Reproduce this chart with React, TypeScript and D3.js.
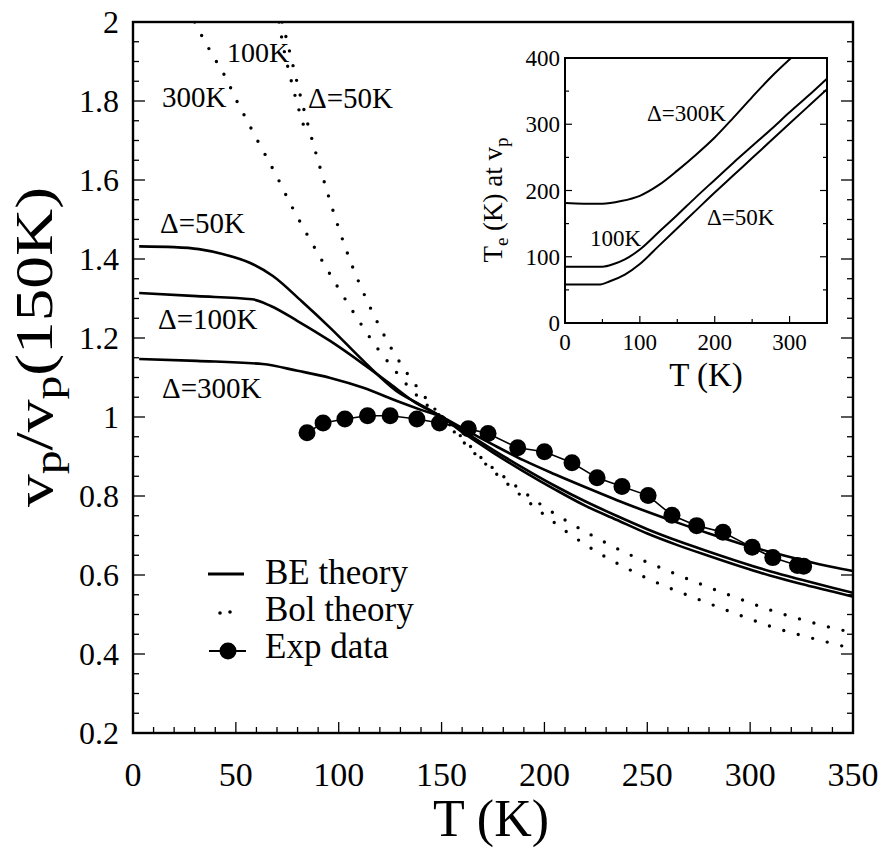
import React from 'react';
import * as d3 from 'd3';

// main plot: T (K) against vp / vp(150K)
const be50 = [[3, 1.432], [20, 1.43], [32, 1.425], [44, 1.412], [57, 1.39], [68, 1.357], [82, 1.293], [96, 1.225], [112, 1.142], [128, 1.066], [140, 1.03], [150, 1.0], [160, 0.962], [175, 0.91], [190, 0.862], [205, 0.817], [220, 0.775], [235, 0.74], [250, 0.705], [265, 0.675], [280, 0.648], [295, 0.622], [310, 0.598], [325, 0.577], [340, 0.558], [350, 0.545]];
const be100 = [[3, 1.314], [31, 1.306], [58, 1.298], [67, 1.281], [80, 1.243], [96, 1.192], [112, 1.134], [125, 1.084], [136, 1.041], [150, 1.0], [160, 0.966], [175, 0.917], [190, 0.87], [205, 0.826], [220, 0.786], [235, 0.75], [250, 0.716], [265, 0.686], [280, 0.659], [295, 0.633], [310, 0.609], [325, 0.588], [340, 0.568], [350, 0.555]];
const be300 = [[3, 1.147], [31, 1.142], [63, 1.134], [80, 1.117], [96, 1.099], [112, 1.074], [128, 1.041], [140, 1.018], [150, 1.0], [160, 0.972], [175, 0.93], [190, 0.89], [205, 0.855], [220, 0.822], [235, 0.79], [250, 0.76], [265, 0.732], [280, 0.705], [295, 0.68], [310, 0.658], [325, 0.638], [340, 0.62], [350, 0.61]];

const bol50 = [[72.5, 2.0], [74, 1.97], [78, 1.885], [82, 1.8], [86, 1.722], [90, 1.648], [95, 1.56], [100, 1.478], [106, 1.39], [112, 1.315], [119, 1.238], [126, 1.17], [134, 1.105], [142, 1.05], [150, 1.0], [160, 0.94], [170, 0.888], [180, 0.84], [190, 0.795], [200, 0.752], [212, 0.705], [225, 0.66], [240, 0.617], [258, 0.573], [276, 0.536], [294, 0.5], [311, 0.468], [328, 0.443], [345, 0.42], [350, 0.413]];
// 100K Bol curve only separates from the 50K one near the top
const bol100 = [[71, 2.0], [73, 1.94], [76.5, 1.86], [80, 1.79], [84, 1.72]];
const bol300 = [[30, 2.0], [35, 1.95], [40, 1.905], [45, 1.86], [50, 1.805], [55, 1.755], [60, 1.705], [65, 1.657], [70, 1.608], [76, 1.545], [84, 1.468], [92, 1.395], [100, 1.325], [109, 1.25], [118, 1.18], [127, 1.12], [136, 1.065], [143, 1.03], [150, 1.0], [160, 0.948], [170, 0.893], [180, 0.85], [190, 0.81], [200, 0.772], [212, 0.733], [225, 0.695], [240, 0.655], [258, 0.615], [275, 0.579], [292, 0.545], [310, 0.511], [328, 0.483], [345, 0.46], [350, 0.455]];

const expT = [84.6, 92.4, 103, 114, 125, 138, 149, 163, 172.6, 187, 200, 213.4, 225.6, 237.7, 250.4, 262, 274, 286.8, 301, 311, 323, 326];
const expV = [0.96, 0.985, 0.995, 1.003, 1.003, 0.995, 0.985, 0.97, 0.958, 0.922, 0.912, 0.884, 0.846, 0.824, 0.801, 0.751, 0.725, 0.708, 0.67, 0.644, 0.624, 0.622];

const xTicks = [0, 50, 100, 150, 200, 250, 300, 350];
const yTicks = [0.2, 0.4, 0.6, 0.8, 1, 1.2, 1.4, 1.6, 1.8, 2];

// inset: T (K) against Te (K) at vp
const in50 = [[0, 58], [45, 58], [60, 63], [80, 73], [100, 89], [125, 116], [150, 143], [175, 170], [200, 197], [225, 223], [250, 249], [275, 275], [300, 301], [325, 327], [350, 353]];
const in100 = [[0, 85], [50, 85], [65, 89], [80, 96], [100, 111], [125, 137], [150, 163], [175, 190], [200, 216], [225, 242], [250, 267], [275, 292], [300, 318], [325, 343], [350, 369]];
const in300 = [[0, 181], [25, 180], [50, 180], [75, 184], [100, 192], [125, 208], [150, 230], [175, 254], [200, 280], [225, 310], [250, 341], [275, 371], [302, 400]];
const inXTicks = [0, 100, 200, 300];
const inYTicks = [0, 100, 200, 300, 400];

const SERIF = 'Liberation Serif';

// serif text helper, family set both as attribute and inline style
function T(props: any) {
  const { children, style, ...rest } = props;
  return (
    <text fontFamily={SERIF} style={{ fontFamily: `'${SERIF}'`, ...style }} {...rest}>
      {children}
    </text>
  );
}

export default function App() {
  const W = 882;
  const H = 850;

  const x = d3.scaleLinear().domain([0, 350]).range([133, 853]);
  const y = d3.scaleLinear().domain([0.2, 2]).range([733, 22]);
  const ix = d3.scaleLinear().domain([0, 350]).range([565, 827]);
  const iy = d3.scaleLinear().domain([0, 400]).range([323, 58]);

  const line = d3
    .line<number[]>()
    .x((d) => x(d[0]))
    .y((d) => y(d[1]))
    .curve(d3.curveMonotoneX);
  const inLine = d3
    .line<number[]>()
    .x((d) => ix(d[0]))
    .y((d) => iy(d[1]))
    .curve(d3.curveMonotoneX);
  const expLine = d3
    .line<number>()
    .x((d, i) => x(expT[i]))
    .y((d) => y(d));

  const xMinor = d3.range(0, 351, 10);
  const yMinor = d3.range(0.2, 2.001, 0.05);

  const dotted = { fill: 'none', stroke: '#000', strokeWidth: 3.4, strokeDasharray: '0 15', strokeLinecap: 'round' as const };
  const solid = { fill: 'none', stroke: '#000', strokeWidth: 2.6 };

  return (
    <svg width={W} height={H} style={{ position: 'absolute', left: 0, top: 0, background: '#fff' }}>
      <defs>
        <clipPath id="plot">
          <rect x={133} y={22} width={720} height={711} />
        </clipPath>
        <clipPath id="inset">
          <rect x={565} y={58} width={262} height={265} />
        </clipPath>
      </defs>

      {/* main frame and ticks */}
      <rect x={133} y={22} width={720} height={711} fill="none" stroke="#000" strokeWidth={2.4} />
      {xMinor.map((t) => (
        <line key={'xm' + t} x1={x(t)} x2={x(t)} y1={733} y2={733 - (t % 50 === 0 ? 11 : 6)} stroke="#000" strokeWidth={1.3} />
      ))}
      {yMinor.map((v, i) => {
        const len = i % 4 === 0 ? 12 : 6;
        return (
          <g key={'ym' + i}>
            <line x1={133} x2={133 + len} y1={y(v)} y2={y(v)} stroke="#000" strokeWidth={1.3} />
            <line x1={853} x2={853 - len} y1={y(v)} y2={y(v)} stroke="#000" strokeWidth={1.3} />
          </g>
        );
      })}
      {xTicks.map((t) => (
        <T key={'xt' + t} x={Math.min(x(t), 858)} y={786} fontSize={34} textAnchor="middle">
          {t}
        </T>
      ))}
      {yTicks.map((v) => (
        <T key={'yt' + v} x={119} y={y(v) + 11} fontSize={32} textAnchor="end">
          {v}
        </T>
      ))}
      <T x={491} y={836} fontSize={52} textAnchor="middle">
        T (K)
      </T>
      <T transform="translate(52,347) rotate(-90)" fontSize={52} textAnchor="middle" textLength={320} lengthAdjust="spacingAndGlyphs">
        v<tspan fontSize={38} dy={9}>p</tspan>
        <tspan dy={-9}>/v</tspan>
        <tspan fontSize={38} dy={9}>p</tspan>
        <tspan dy={-9}>(150K)</tspan>
      </T>

      {/* curves */}
      <g clipPath="url(#plot)">
        <path d={line(be50) ?? ''} {...solid} />
        <path d={line(be100) ?? ''} {...solid} />
        <path d={line(be300) ?? ''} {...solid} />
        <path d={line(bol50) ?? ''} {...dotted} />
        <path d={line(bol100) ?? ''} {...dotted} />
        <path d={line(bol300) ?? ''} {...dotted} />
        <path d={expLine(expV) ?? ''} fill="none" stroke="#000" strokeWidth={1.6} />
        {expV.map((v, i) => (
          <circle key={'e' + i} cx={x(expT[i])} cy={y(v)} r={8.5} fill="#000" />
        ))}
      </g>

      {/* curve labels */}
      <T x={227} y={62} fontSize={28}>100K</T>
      <T x={162} y={107} fontSize={29}>300K</T>
      <T x={308} y={108} fontSize={29}>Δ=50K</T>
      <T x={160} y={233} fontSize={29}>Δ=50K</T>
      <T x={158} y={329} fontSize={29}>Δ=100K</T>
      <T x={162} y={398} fontSize={29}>Δ=300K</T>

      {/* legend */}
      <line x1={208} x2={244} y1={574} y2={574} stroke="#000" strokeWidth={3} />
      <T x={265} y={584} fontSize={35}>BE theory</T>
      <circle cx={220} cy={613} r={1.8} fill="#000" />
      <circle cx={230} cy={612} r={1.8} fill="#000" />
      <T x={265} y={621} fontSize={35}>Bol theory</T>
      <line x1={209} x2={246} y1={651} y2={651} stroke="#000" strokeWidth={2} />
      <circle cx={228} cy={651} r={8.5} fill="#000" />
      <T x={265} y={658} fontSize={35}>Exp data</T>

      {/* inset */}
      <rect x={565} y={58} width={262} height={265} fill="#fff" stroke="#000" strokeWidth={2} />
      {d3.range(0, 351, 50).map((t) => (
        <line key={'ixm' + t} x1={ix(t)} x2={ix(t)} y1={323} y2={323 - (t % 100 === 0 ? 7 : 4)} stroke="#000" strokeWidth={1.2} />
      ))}
      {d3.range(0, 401, 50).map((v) => (
        <g key={'iym' + v}>
          <line x1={565} x2={565 + (v % 100 === 0 ? 7 : 4)} y1={iy(v)} y2={iy(v)} stroke="#000" strokeWidth={1.2} />
          <line x1={827} x2={827 - (v % 100 === 0 ? 7 : 4)} y1={iy(v)} y2={iy(v)} stroke="#000" strokeWidth={1.2} />
        </g>
      ))}
      {inXTicks.map((t) => (
        <T key={'ixt' + t} x={ix(t)} y={350} fontSize={23} textAnchor="middle">
          {t}
        </T>
      ))}
      {inYTicks.map((v) => (
        <T key={'iyt' + v} x={560} y={iy(v) + 8} fontSize={23} textAnchor="end">
          {v}
        </T>
      ))}
      <T x={706} y={386} fontSize={33} textAnchor="middle">
        T (K)
      </T>
      <T transform="translate(502,200) rotate(-90)" fontSize={27} textAnchor="middle">
        T<tspan fontSize={19} dy={6}>e</tspan>
        <tspan dy={-6}> (K) at v</tspan>
        <tspan fontSize={19} dy={6}>p</tspan>
      </T>
      <g clipPath="url(#inset)">
        <path d={inLine(in50) ?? ''} fill="none" stroke="#000" strokeWidth={2} />
        <path d={inLine(in100) ?? ''} fill="none" stroke="#000" strokeWidth={2} />
        <path d={inLine(in300) ?? ''} fill="none" stroke="#000" strokeWidth={2} />
      </g>
      <T x={647} y={121} fontSize={23}>Δ=300K</T>
      <T x={590} y={246} fontSize={23}>100K</T>
      <T x={707} y={225} fontSize={23}>Δ=50K</T>
    </svg>
  );
}
